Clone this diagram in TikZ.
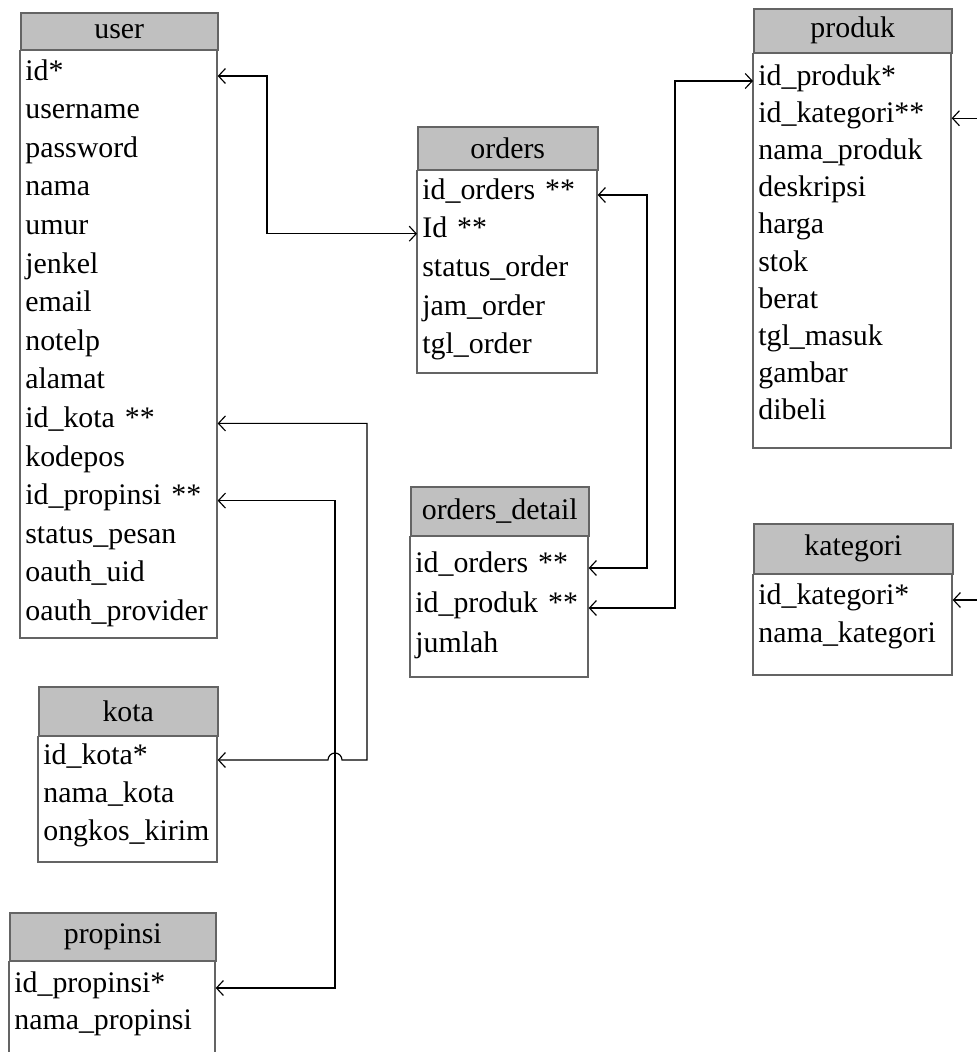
\documentclass[tikz,border=0pt]{standalone}
\usepackage{fontspec}
\setmainfont{Liberation Serif}
\usetikzlibrary{arrows.meta, calc, positioning}
\definecolor{headgray}{RGB}{192,192,192}
\definecolor{framegray}{RGB}{100,100,100}
\tikzset{
>={Straight Barb[length=1.4mm,width=3mm]}, % thin open arrow heads
every node/.style={font=\fontsize{17}{20}\selectfont},
frame/.style={draw=framegray, line width=0.9pt}, % table outline
head/.style={frame, fill=headgray, anchor=north west, inner sep=0pt}, % table title bar
field/.style={anchor=west, text width=#1, inner xsep=0.1cm, inner ysep=0pt, align=left, text height=0.7em, text depth=0.24em}, % one column of a table
link/.style={line width=0.65pt}, % relation lines
}
\begin{document}
\begin{tikzpicture}[x=0.02cm, y=-0.02cm]%units are pixels of the drawing, y going down
  \useasboundingbox (0,0) rectangle (977,1052);

  % user
  \node[head, minimum width=3.94cm, minimum height=0.74cm] (user) at (20,12) {user};
  \draw[frame] (user.south west) rectangle (217,638);
  \foreach \f [count=\i] in {id*, username, password, nama, umur, jenkel, email, notelp, alamat, id\_kota **, kodepos, id\_propinsi **, status\_pesan, oauth\_uid, oauth\_provider}
    \node[field=3.74cm] (user-\i) at (20,{76+38.6*(\i-1)}) {\f};

  % orders
  \node[head, minimum width=3.6cm, minimum height=0.86cm] (orders) at (417,126) {orders};
  \draw[frame] (orders.south west) rectangle (597,373);
  \foreach \f [count=\i] in {id\_orders **, Id **, status\_order, jam\_order, tgl\_order}
    \node[field=3.4cm] (orders-\i) at (417,{195+38.7*(\i-1)}) {\f};

  % orders_detail
  \node[head, minimum width=3.56cm, minimum height=0.98cm] (detail) at (410,486) {orders\_detail};
  \draw[frame] (detail.south west) rectangle (588,677);
  \foreach \f [count=\i] in {id\_orders **, id\_produk **, jumlah}
    \node[field=3.36cm] (detail-\i) at (410,{568+40*(\i-1)}) {\f};

  % produk
  \node[head, minimum width=3.96cm, minimum height=0.88cm] (produk) at (753,8) {produk};
  \draw[frame] (produk.south west) rectangle (951,448);
  \foreach \f [count=\i] in {id\_produk*, id\_kategori**, nama\_produk, deskripsi, harga, stok, berat, tgl\_masuk, gambar, dibeli}
    \node[field=3.76cm] (produk-\i) at (753,{81+37.2*(\i-1)}) {\f};

  % kategori
  \node[head, minimum width=3.98cm, minimum height=1cm] (kategori) at (753,523) {kategori};
  \draw[frame] (kategori.south west) rectangle (952,675);
  \foreach \f [count=\i] in {id\_kategori*, nama\_kategori}
    \node[field=3.78cm] (kategori-\i) at (753,{600+38*(\i-1)}) {\f};

  % kota
  \node[head, minimum width=3.58cm, minimum height=0.98cm] (kota) at (38,686) {kota};
  \draw[frame] (kota.south west) rectangle (217,862);
  \foreach \f [count=\i] in {id\_kota*, nama\_kota, ongkos\_kirim}
    \node[field=3.38cm] (kota-\i) at (38,{760+38*(\i-1)}) {\f};

  % propinsi
  \node[head, minimum width=4.12cm, minimum height=0.96cm] (propinsi) at (9,912) {propinsi};
  \draw[frame] (propinsi.south west) rectangle (215,1070);
  \foreach \f [count=\i] in {id\_propinsi*, nama\_propinsi}
    \node[field=3.92cm] (propinsi-\i) at (9,{988+37*(\i-1)}) {\f};

  % relations
  \coordinate (idbus) at (267,150);
  \coordinate (ordbus) at (647,380);
  \coordinate (prodbus) at (675,300);
  \coordinate (kotabus) at (367,600);
  \coordinate (provbus) at (335,700);
  \coordinate (rim) at (977,0);

  \draw[link, <->] (user-1.east) -| (idbus) |- (orders-2.west);
  \draw[link, <->] (orders-1.east) -| (ordbus) |- (detail-1.east);
  \draw[link, <->] (detail-2.east) -| (prodbus) |- (produk-1.west);
  \draw[link, <->] (user-12.east) -| (provbus) |- (propinsi-1.east);
  \draw[link, <->] (user-10.east) -| (kotabus) |- ($(provbus |- kota-1.east)+(7,0)$)
    arc[start angle=0, end angle=180, radius=0.14cm] -- (kota-1.east);
  \draw[link, ->] (rim |- produk-2.east) -- (produk-2.east);
  \draw[link, ->] (rim |- kategori-1.east) -- (kategori-1.east);
\end{tikzpicture}
\end{document}
